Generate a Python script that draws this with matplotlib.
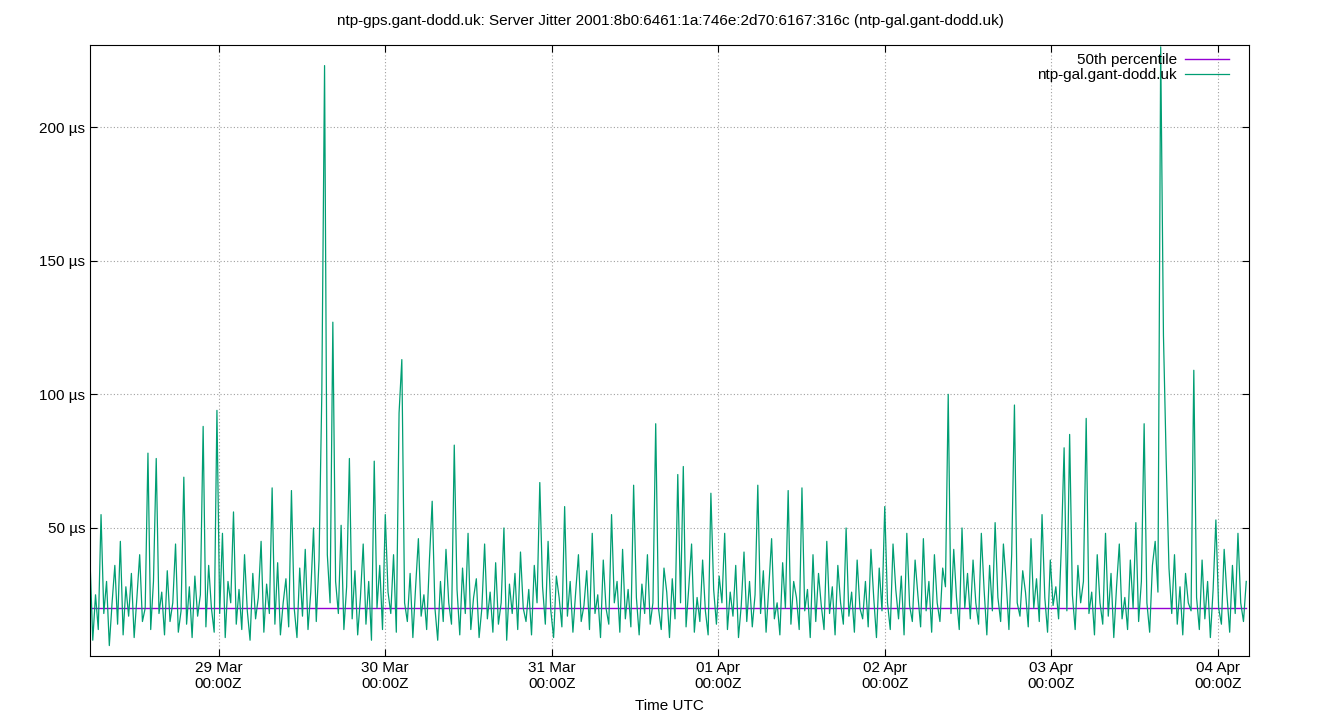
import matplotlib
matplotlib.use("Agg")
import matplotlib.pyplot as plt
import matplotlib.dates as mdates
import numpy as np
from datetime import datetime, timedelta

title = "ntp-gps.gant-dodd.uk: Server Jitter 2001:8b0:6461:1a:746e:2d70:6167:316c (ntp-gal.gant-dodd.uk)"
series_name = "ntp-gal.gant-dodd.uk"
median_label = "50th percentile"
median_value = 20.0
start_time = datetime(2024, 3, 28, 5, 28)
end_time = datetime(2024, 4, 4, 4, 28)
tick_days = [datetime(2024, 3, d) for d in (29, 30, 31)] + [datetime(2024, 4, d) for d in (1, 2, 3, 4)]

jitter_us = [
38,8,25,12,55,18,30,6,22,36,14,45,10,28,17,33,9,24,40,15,
20,78,12,30,76,18,26,10,34,15,22,44,11,19,69,14,28,9,32,17,
25,88,13,36,20,11,94,18,48,9,30,22,56,14,27,12,40,19,8,33,
16,24,45,11,29,18,65,14,37,10,22,31,13,64,20,9,35,17,42,12,
26,50,15,38,100,223,40,22,127,30,18,51,12,28,76,16,34,10,24,44,
14,30,8,75,20,36,12,55,26,18,40,11,93,113,22,15,33,9,28,46,
17,25,12,38,60,20,8,30,15,42,22,14,81,27,10,35,18,48,12,24,
31,9,20,44,16,26,11,37,14,22,50,8,29,18,33,12,41,20,15,27,
10,36,22,67,28,14,45,19,9,32,24,13,58,17,30,11,26,40,15,21,
34,12,48,18,25,9,38,20,14,55,22,30,11,42,16,27,13,66,24,10,
29,18,40,14,22,89,20,12,35,26,9,31,16,70,22,73,13,28,44,11,
24,15,38,19,10,63,27,14,32,22,48,12,26,17,36,9,21,41,15,30,
13,25,66,18,34,11,28,46,16,22,10,37,20,64,14,30,24,12,65,19,
27,9,40,15,33,21,12,45,18,28,10,36,22,14,50,17,26,11,38,20,
16,30,13,42,24,9,35,19,58,22,12,44,27,16,32,10,48,21,15,38,
25,13,46,19,30,11,40,22,15,35,28,100,18,42,24,12,50,20,33,16,
38,22,14,48,27,10,36,19,52,24,15,44,30,12,40,96,22,17,34,26,
13,46,20,31,15,55,24,11,38,21,28,16,43,80,19,85,25,12,36,22,
30,91,18,26,10,40,22,14,48,17,33,9,28,44,16,24,12,38,20,52,
15,30,89,22,11,36,45,26,230,122,75,35,18,40,14,28,10,33,22,19,
109,24,12,38,16,30,9,27,53,20,14,42,25,11,36,18,48,22,15,30,
]

n = len(jitter_us)
step = (end_time - start_time) / n
times = [start_time + step * i for i in range(n)]

plt.rcParams['font.family'] = ['Liberation Sans', 'DejaVu Sans']
fig = plt.figure(figsize=(13.4, 7.2), dpi=100)
ax = fig.add_axes([90/1340, 1-656/720, (1249-90)/1340, (656-45)/720])
ax.plot(times, [median_value]*n, color='#9400d3', lw=1.0, label=median_label)
ax.plot(times, jitter_us, color='#009e73', lw=0.9, label=series_name)
ax.set_xlim(start_time, end_time)
ax.set_ylim(2.1, 230.7)
ax.set_yticks([50, 100, 150, 200])
ax.set_yticklabels([f"{v} µs" for v in (50, 100, 150, 200)])
ax.set_xticks(tick_days)
ax.xaxis.set_major_formatter(mdates.DateFormatter("%d %b\n%H:%MZ"))
ax.grid(True, color='#a0a0a0', linestyle=(0, (1, 2)), lw=0.8)
ax.tick_params(direction='in', labelsize=11, length=5, top=True, right=True)
for s in ax.spines.values():
    s.set_linewidth(0.8)
ax.set_xlabel("Time UTC", fontsize=11, labelpad=6)
fig.text(0.5, 1-21/720, title, fontsize=11, ha='center', va='center')
ax.legend(loc='upper right', frameon=False, markerfirst=False, fontsize=11,
          handlelength=2.9, handletextpad=0.5, borderaxespad=0.0,
          labelspacing=0.05, bbox_to_anchor=(1-14/1159, 1-2/611))
fig.savefig("out.png", dpi=100)
